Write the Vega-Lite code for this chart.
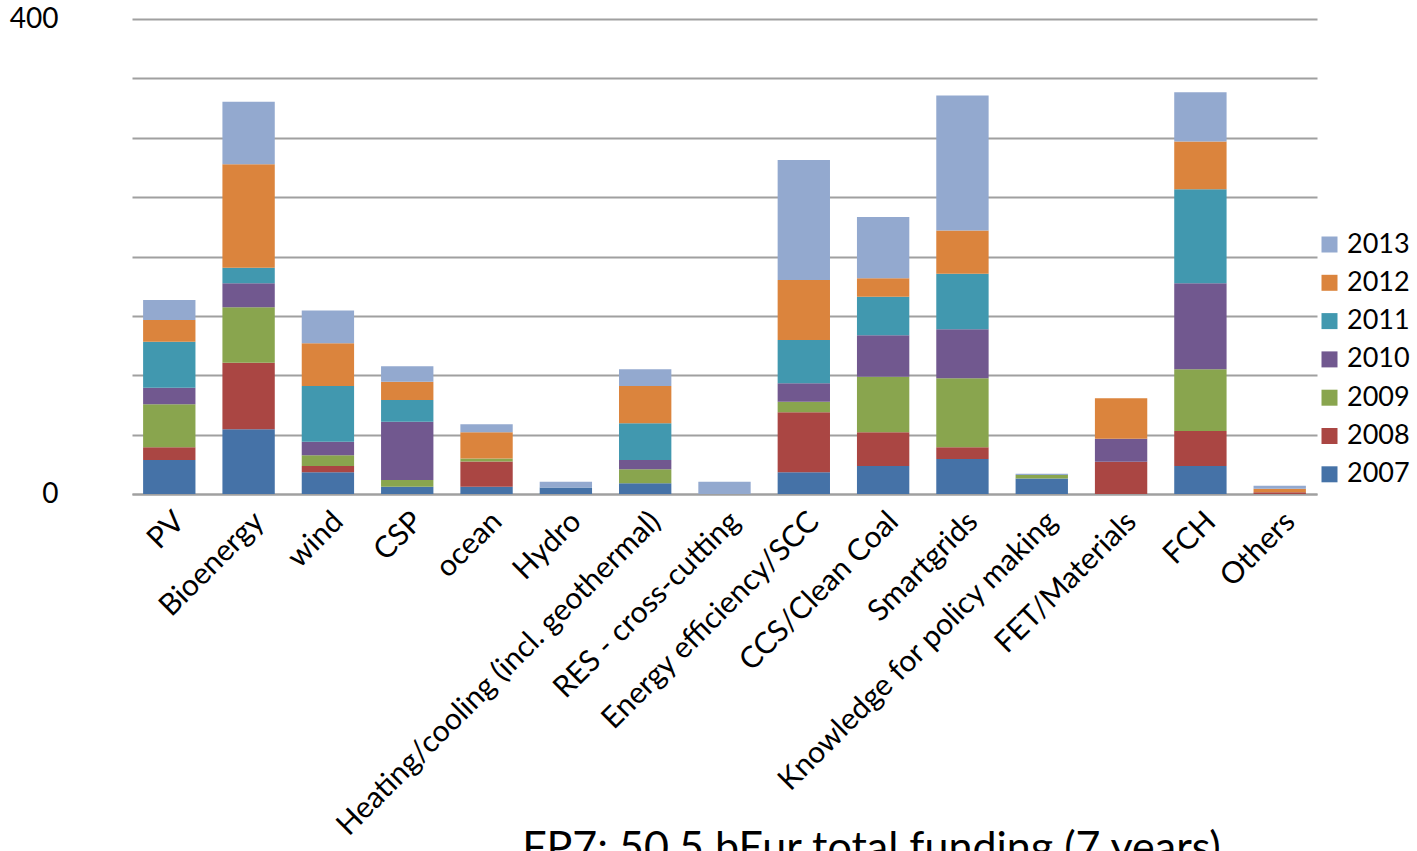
{
  "$schema": "https://vega.github.io/schema/vega-lite/v6.json",
  "autosize": {"type": "none"},
  "width": 1185,
  "height": 475,
  "padding": {"left": 132, "top": 19, "right": 100, "bottom": 357},
  "background": "white",
  "config": {
    "font": "Lato",
    "view": {"stroke": null}
  },
  "data": {
    "values": [
      {"category": "PV", "year": "2007", "value": 28.6},
      {"category": "PV", "year": "2008", "value": 10.7},
      {"category": "PV", "year": "2009", "value": 36.2},
      {"category": "PV", "year": "2010", "value": 14.0},
      {"category": "PV", "year": "2011", "value": 38.7},
      {"category": "PV", "year": "2012", "value": 18.3},
      {"category": "PV", "year": "2013", "value": 16.8},
      {"category": "Bioenergy", "year": "2007", "value": 54.5},
      {"category": "Bioenergy", "year": "2008", "value": 56.1},
      {"category": "Bioenergy", "year": "2009", "value": 46.6},
      {"category": "Bioenergy", "year": "2010", "value": 20.2},
      {"category": "Bioenergy", "year": "2011", "value": 13.1},
      {"category": "Bioenergy", "year": "2012", "value": 87.1},
      {"category": "Bioenergy", "year": "2013", "value": 52.7},
      {"category": "wind", "year": "2007", "value": 18.3},
      {"category": "wind", "year": "2008", "value": 5.3},
      {"category": "wind", "year": "2009", "value": 9.0},
      {"category": "wind", "year": "2010", "value": 11.5},
      {"category": "wind", "year": "2011", "value": 46.9},
      {"category": "wind", "year": "2012", "value": 36.0},
      {"category": "wind", "year": "2013", "value": 27.5},
      {"category": "CSP", "year": "2007", "value": 6.2},
      {"category": "CSP", "year": "2009", "value": 5.6},
      {"category": "CSP", "year": "2010", "value": 49.1},
      {"category": "CSP", "year": "2011", "value": 18.3},
      {"category": "CSP", "year": "2012", "value": 15.4},
      {"category": "CSP", "year": "2013", "value": 13.0},
      {"category": "ocean", "year": "2007", "value": 6.2},
      {"category": "ocean", "year": "2008", "value": 21.1},
      {"category": "ocean", "year": "2009", "value": 2.5},
      {"category": "ocean", "year": "2012", "value": 22.2},
      {"category": "ocean", "year": "2013", "value": 6.7},
      {"category": "Hydro", "year": "2007", "value": 5.5},
      {"category": "Hydro", "year": "2013", "value": 4.8},
      {"category": "Heating/cooling (incl. geothermal)", "year": "2007", "value": 9.0},
      {"category": "Heating/cooling (incl. geothermal)", "year": "2009", "value": 11.8},
      {"category": "Heating/cooling (incl. geothermal)", "year": "2010", "value": 7.8},
      {"category": "Heating/cooling (incl. geothermal)", "year": "2011", "value": 30.9},
      {"category": "Heating/cooling (incl. geothermal)", "year": "2012", "value": 31.4},
      {"category": "Heating/cooling (incl. geothermal)", "year": "2013", "value": 14.1},
      {"category": "RES - cross-cutting", "year": "2013", "value": 10.4},
      {"category": "Energy efficiency/SCC", "year": "2007", "value": 18.3},
      {"category": "Energy efficiency/SCC", "year": "2008", "value": 50.5},
      {"category": "Energy efficiency/SCC", "year": "2009", "value": 8.9},
      {"category": "Energy efficiency/SCC", "year": "2010", "value": 15.5},
      {"category": "Energy efficiency/SCC", "year": "2011", "value": 36.5},
      {"category": "Energy efficiency/SCC", "year": "2012", "value": 50.5},
      {"category": "Energy efficiency/SCC", "year": "2013", "value": 101.1},
      {"category": "CCS/Clean Coal", "year": "2007", "value": 23.6},
      {"category": "CCS/Clean Coal", "year": "2008", "value": 28.4},
      {"category": "CCS/Clean Coal", "year": "2009", "value": 46.8},
      {"category": "CCS/Clean Coal", "year": "2010", "value": 34.9},
      {"category": "CCS/Clean Coal", "year": "2011", "value": 32.5},
      {"category": "CCS/Clean Coal", "year": "2012", "value": 15.5},
      {"category": "CCS/Clean Coal", "year": "2013", "value": 51.6},
      {"category": "Smartgrids", "year": "2007", "value": 29.5},
      {"category": "Smartgrids", "year": "2008", "value": 9.9},
      {"category": "Smartgrids", "year": "2009", "value": 58.1},
      {"category": "Smartgrids", "year": "2010", "value": 41.3},
      {"category": "Smartgrids", "year": "2011", "value": 46.6},
      {"category": "Smartgrids", "year": "2012", "value": 36.5},
      {"category": "Smartgrids", "year": "2013", "value": 113.7},
      {"category": "Knowledge for policy making", "year": "2007", "value": 13.0},
      {"category": "Knowledge for policy making", "year": "2009", "value": 3.0},
      {"category": "Knowledge for policy making", "year": "2013", "value": 1.0},
      {"category": "FET/Materials", "year": "2008", "value": 27.2},
      {"category": "FET/Materials", "year": "2010", "value": 19.4},
      {"category": "FET/Materials", "year": "2012", "value": 34.0},
      {"category": "FCH", "year": "2007", "value": 23.6},
      {"category": "FCH", "year": "2008", "value": 29.5},
      {"category": "FCH", "year": "2009", "value": 52.0},
      {"category": "FCH", "year": "2010", "value": 72.4},
      {"category": "FCH", "year": "2011", "value": 79.2},
      {"category": "FCH", "year": "2012", "value": 40.1},
      {"category": "FCH", "year": "2013", "value": 41.6},
      {"category": "Others", "year": "2008", "value": 1.5},
      {"category": "Others", "year": "2012", "value": 3.0},
      {"category": "Others", "year": "2013", "value": 2.5}
    ]
  },
  "mark": {"type": "bar"},
  "encoding": {
    "x": {
      "field": "category",
      "type": "nominal",
      "sort": null,
      "scale": {"paddingInner": 0.34, "paddingOuter": 0.14},
      "axis": {
        "title": "FP7: 50.5 bEur total funding (7 years)",
        "titleFont": "Lato",
        "titleFontSize": 43,
        "titleFontWeight": "normal",
        "titleColor": "black",
        "titleX": 739,
        "titleY": 333,
        "titleAlign": "center",
        "titleBaseline": "top",
        "labelAngle": -45,
        "labelAlign": "right",
        "labelBaseline": "top",
        "labelFontSize": 30,
        "labelColor": "black",
        "labelPadding": 12,
        "labelOverlap": false,
        "labelLimit": 0,
        "ticks": false,
        "tickSize": 0,
        "domainColor": "#a0a0a0",
        "domainWidth": 2
      }
    },
    "y": {
      "field": "value",
      "type": "quantitative",
      "stack": "zero",
      "scale": {"domain": [0, 400], "nice": false},
      "axis": {
        "title": null,
        "values": [0, 50, 100, 150, 200, 250, 300, 350, 400],
        "labelExpr": "datum.value == 0 || datum.value == 400 ? datum.label : ''",
        "labelFontSize": 28,
        "labelColor": "black",
        "labelPadding": 74,
        "ticks": false,
        "tickSize": 0,
        "domain": false,
        "grid": true,
        "gridColor": "#a0a0a0",
        "gridWidth": 2
      }
    },
    "color": {
      "field": "year",
      "type": "nominal",
      "scale": {
        "domain": ["2013", "2012", "2011", "2010", "2009", "2008", "2007"],
        "range": ["#93A9CF", "#DB843D", "#4198AF", "#71588F", "#89A54E", "#AA4643", "#4572A7"]
      },
      "legend": {
        "title": null,
        "orient": "none",
        "legendX": 1184,
        "legendY": 212,
        "padding": 0,
        "symbolType": "square",
        "symbolSize": 256,
        "symbolStrokeWidth": 0,
        "symbolOpacity": 1,
        "labelFontSize": 27,
        "labelColor": "black",
        "labelOffset": 4,
        "rowPadding": 10.3
      }
    },
    "order": {"field": "year", "type": "nominal", "sort": "ascending"}
  }
}
